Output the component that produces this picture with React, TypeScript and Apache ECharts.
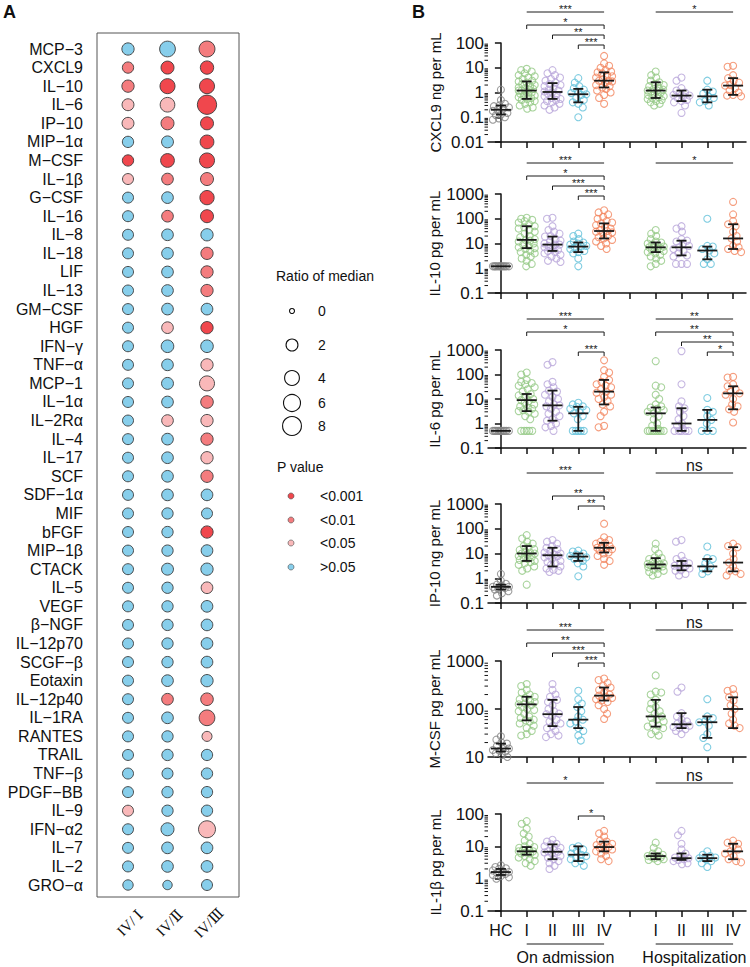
import React, { useEffect, useRef } from "react";
import * as echarts from "echarts";

const FONT = '"Liberation Sans", Arial, Helvetica, sans-serif';
const SERIF = '"Liberation Serif", "DejaVu Serif", "Times New Roman", serif';

// ---------------- Panel A data ----------------
const cytokines = [
  "MCP−3", "CXCL9", "IL−10", "IL−6", "IP−10", "MIP−1α", "M−CSF", "IL−1β", "G−CSF", "IL−16",
  "IL−8", "IL−18", "LIF", "IL−13", "GM−CSF", "HGF", "IFN−γ", "TNF−α", "MCP−1", "IL−1α",
  "IL−2Rα", "IL−4", "IL−17", "SCF", "SDF−1α", "MIF", "bFGF", "MIP−1β", "CTACK", "IL−5",
  "VEGF", "β−NGF", "IL−12p70", "SCGF−β", "Eotaxin", "IL−12p40", "IL−1RA", "RANTES", "TRAIL", "TNF−β",
  "PDGF−BB", "IL−9", "IFN−α2", "IL−7", "IL−2", "GRO−α",
];
const comparisons = ["IV/ Ⅰ", "IV/Ⅱ", "IV/Ⅲ"];
const pValueLevels = ["<0.001", "<0.01", "<0.05", ">0.05"];
const pValueColors = ["#F0474D", "#F47C7E", "#F9B8B9", "#87CEEB"];
const sizeLegendValues = [0, 2, 4, 6, 8];

const ratioIVvsI = [
  2.2, 1.65, 2.2, 2.0, 2.0, 1.65, 1.65, 1.5, 1.5, 1.5,
  1.5, 1.5, 1.5, 1.5, 1.5, 1.5, 1.5, 1.5, 1.5, 1.5,
  1.5, 1.5, 1.5, 1.5, 1.5, 1.5, 1.5, 1.5, 1.5, 1.5,
  1.5, 1.5, 1.5, 1.5, 1.5, 1.5, 1.5, 1.5, 1.5, 1.5,
  1.5, 1.5, 1.5, 1.5, 1.5, 1.2,
];
const ratioIVvsII = [
  4.8, 2.67, 4.2, 3.9, 2.67, 2.0, 3.2, 1.85, 1.85, 1.85,
  1.85, 1.85, 1.85, 1.85, 1.85, 1.85, 2.4, 1.85, 2.0, 1.85,
  1.85, 1.85, 1.85, 1.85, 1.85, 1.65, 1.65, 1.65, 2.0, 1.65,
  1.65, 1.65, 1.65, 1.65, 1.85, 1.85, 1.85, 1.65, 1.65, 1.5,
  1.65, 1.65, 2.67, 1.85, 1.85, 0.8,
];
const ratioIVvsIII = [
  5.0, 2.9, 4.2, 8.5, 2.67, 3.2, 4.2, 2.67, 3.6, 2.67,
  2.2, 2.2, 2.2, 2.2, 1.85, 2.2, 2.4, 2.2, 4.2, 2.4,
  2.2, 2.2, 2.2, 2.2, 1.85, 1.5, 2.2, 1.85, 2.2, 1.85,
  1.85, 1.85, 1.85, 1.85, 2.2, 2.4, 4.8, 1.05, 1.65, 1.65,
  1.65, 1.65, 6.0, 1.85, 1.85, 1.5,
];
// p value class: 0 <0.001, 1 <0.01, 2 <0.05, 3 >0.05
const pIVvsI = [
  3, 1, 1, 2, 2, 3, 0, 2, 3, 3,
  3, 3, 3, 3, 3, 3, 3, 3, 3, 3,
  3, 3, 3, 3, 3, 3, 3, 3, 3, 3,
  3, 3, 3, 3, 3, 3, 3, 3, 3, 3,
  3, 2, 3, 3, 3, 3,
];
const pIVvsII = [
  3, 0, 0, 2, 1, 3, 0, 1, 3, 1,
  3, 3, 3, 3, 3, 2, 3, 3, 3, 3,
  2, 3, 3, 3, 3, 3, 3, 3, 3, 3,
  3, 3, 3, 3, 3, 1, 3, 3, 3, 3,
  3, 3, 3, 3, 3, 3,
];
const pIVvsIII = [
  1, 0, 0, 0, 0, 0, 0, 1, 0, 0,
  3, 1, 1, 1, 3, 0, 3, 2, 2, 1,
  2, 1, 2, 1, 3, 3, 0, 3, 3, 2,
  3, 3, 3, 3, 3, 1, 1, 2, 3, 3,
  3, 3, 2, 3, 3, 3,
];

// ---------------- Panel B data ----------------
const categories = ["HC", "I", "II", "III", "IV", "", "I", "II", "III", "IV"];
const groupSlots = [0, 1, 2, 3, 4, 6, 7, 8, 9];
const groupColorIndex = [0, 1, 2, 3, 4, 1, 2, 3, 4];
const groupColors = ["#858585", "#95C986", "#B8A5DA", "#62C1DA", "#F2865F"];
const periodNames = ["On admission", "Hospitalization"];
const periodFrom = [1, 6];
const periodTo = [4, 9];

const cxcl9Values = [
  [1.3, 0.5, 0.35, 0.3, 0.28, 0.25, 0.22, 0.2, 0.18, 0.15, 0.13, 0.12, 0.1, 0.09, 0.08],
  [9, 8, 7, 6, 5, 4.5, 4, 3.5, 3, 2.8, 2.5, 2.2, 2, 1.8, 1.6, 1.5, 1.4, 1.3, 1.2, 1.2, 1.1, 1.0, 0.9, 0.8, 0.75, 0.7, 0.65, 0.6, 0.55, 0.5, 0.45, 0.4, 0.35, 0.3, 0.25, 0.22],
  [8, 6, 5, 4, 3.5, 3, 2.5, 2.2, 2, 1.8, 1.5, 1.3, 1.2, 1.1, 1.0, 0.9, 0.8, 0.7, 0.6, 0.55, 0.5, 0.45, 0.4, 0.35, 0.3, 0.25, 0.2],
  [3.8, 2.5, 1.8, 1.5, 1.3, 1.1, 0.95, 0.85, 0.8, 0.6, 0.5, 0.4, 0.35, 0.25, 0.1],
  [30, 15, 12, 10, 8, 7, 6.5, 6, 5, 4.5, 4, 3.5, 3, 3, 2.8, 2.5, 2, 1.8, 1.6, 1.4, 1.2, 1.0, 0.8, 0.6, 0.35],
  [7, 5, 4, 3, 2.6, 2.2, 2, 1.8, 1.6, 1.4, 1.3, 1.2, 1.2, 1.1, 1.0, 0.9, 0.8, 0.7, 0.65, 0.6, 0.55, 0.5, 0.45, 0.4, 0.35, 0.3],
  [4, 3, 1.5, 1.2, 1.0, 0.9, 0.8, 0.75, 0.7, 0.6, 0.5, 0.45, 0.4, 0.3, 0.15],
  [3, 1.3, 1.1, 0.9, 0.7, 0.6, 0.45, 0.4, 0.3],
  [12, 11, 5, 3.8, 3, 2.5, 2, 1.9, 1.5, 1.2, 1.0, 0.8, 0.75, 0.7],
];
const cxcl9Median = [0.2, 1.2, 1.05, 0.85, 3.0, 1.2, 0.75, 0.7, 1.9];
const cxcl9Q1 = [0.13, 0.55, 0.55, 0.4, 1.6, 0.6, 0.45, 0.4, 0.8];
const cxcl9Q3 = [0.3, 2.8, 2.4, 1.4, 6.5, 2.6, 1.2, 1.3, 3.8];

const il10Values = [
  [1.2, 1.2, 1.2, 1.2, 1.2, 1.2, 1.2, 1.2, 1.2, 1.2, 1.2, 1.2],
  [110, 100, 90, 80, 70, 60, 50, 45, 40, 35, 30, 25, 20, 18, 15, 14, 13, 12, 10, 9, 8, 7, 6.5, 6, 5, 4.5, 4, 3.5, 3, 2.5, 2, 1.5, 1.2],
  [110, 100, 50, 35, 30, 25, 20, 19, 15, 13, 12, 10, 9, 9, 8, 7, 6, 5.5, 5, 4.5, 4, 3.5, 3, 2.5, 2, 1.8],
  [25, 20, 15, 12, 11, 10, 9, 8, 7.5, 7, 6, 5, 4.5, 4, 2.5, 1.2],
  [220, 180, 150, 120, 100, 80, 70, 65, 55, 45, 40, 35, 32, 30, 28, 25, 20, 18, 16, 14, 12, 10, 8, 6],
  [35, 25, 20, 15, 12, 11, 10, 9, 8, 7.5, 7, 7, 6.5, 6, 5.5, 5, 4.5, 4, 3.5, 3, 2.5, 2, 1.5, 1.2],
  [50, 40, 30, 15, 13, 12, 10, 8, 7, 6, 5, 4, 3.3, 3, 1.5, 1.5, 1.5],
  [100, 8, 7.5, 6, 5.2, 4, 2.3, 1.5, 1.5],
  [480, 150, 80, 60, 50, 30, 20, 16, 12, 8, 7, 6, 5, 4.5],
];
const il10Median = [1.2, 14, 9, 7.5, 32, 7, 7, 5.2, 16];
const il10Q1 = [1.2, 6.5, 5, 4.5, 16, 4.5, 3.3, 2.3, 6];
const il10Q3 = [1.2, 50, 19, 11, 65, 11, 13, 7.5, 60];

const il6Values = [
  [0.5, 0.5, 0.5, 0.5, 0.5, 0.5, 0.5, 0.5, 0.5, 0.5, 0.5, 0.5],
  [120, 100, 60, 50, 45, 40, 35, 30, 25, 20, 16, 14, 12, 10, 9, 8, 7, 6, 5, 4.5, 4, 3.5, 3.2, 3, 2.5, 2, 1.5, 0.5, 0.5, 0.5, 0.5, 0.5],
  [320, 250, 50, 40, 30, 22, 20, 15, 12, 10, 8, 6, 5.5, 5, 4, 3, 2.5, 2, 1.5, 1.3, 1, 0.8, 0.7, 0.5],
  [7, 6, 5, 4.8, 4, 3.5, 3, 2.6, 2, 1.5, 0.5, 0.5, 0.5, 0.5, 0.5],
  [380, 150, 120, 80, 60, 50, 40, 35, 30, 25, 20, 18, 15, 12, 10, 8, 6, 5, 3, 2, 0.8, 0.7],
  [350, 35, 30, 15, 10, 6, 5, 4.5, 4, 3.5, 3, 2.6, 2, 1.5, 1, 0.8, 0.6, 0.5, 0.5, 0.5, 0.5, 0.5, 0.5, 0.5, 0.5],
  [900, 40, 8, 5, 4.2, 3, 2, 1.5, 1, 0.8, 0.6, 0.5, 0.5, 0.5, 0.5, 0.5],
  [11, 3.6, 3, 2, 1.4, 1, 0.5, 0.5, 0.5],
  [80, 75, 40, 33, 25, 20, 17, 15, 10, 6, 5, 3.8, 3, 1.1],
];
const il6Median = [0.5, 9, 5.5, 2.6, 20, 2.6, 1.0, 1.4, 17];
const il6Q1 = [0.5, 3.2, 1.3, 0.5, 6, 0.5, 0.5, 0.5, 3.8];
const il6Q3 = [0.5, 16, 22, 4.8, 60, 4.5, 4.2, 3.6, 33];

const ip10Values = [
  [1.5, 0.8, 0.6, 0.55, 0.5, 0.45, 0.45, 0.4, 0.38, 0.35, 0.3, 0.25, 0.2],
  [55, 40, 30, 25, 20, 18, 15, 14, 12, 11, 10, 10, 9, 8, 7, 6.5, 6, 5.5, 5, 4.5, 4, 3.5, 3, 2.5, 2, 0.55],
  [35, 30, 25, 20, 17, 15, 13, 11, 10, 9, 8.5, 8, 7, 6, 5, 4.5, 4, 3.5, 3, 2.5, 2.2, 2, 1.8],
  [13, 12, 10, 9, 8, 7.5, 7, 6, 5, 4, 3, 1.2],
  [160, 45, 35, 30, 27, 25, 20, 18, 17, 16, 15, 13, 11, 10, 8, 6, 5, 3.5],
  [25, 15, 10, 7, 6.5, 6, 5, 4.5, 4, 3.8, 3.6, 3.5, 3.2, 3, 2.8, 2.5, 2.2, 2, 1.8, 1.5, 1.3],
  [35, 30, 8, 6, 5, 4, 3.5, 3.2, 3, 2.5, 2.1, 2, 1.5, 1.3],
  [19, 6.5, 6, 4, 3, 2.5, 1.9, 1.5],
  [25, 20, 18, 10, 6, 4.3, 3, 2, 1.9, 1.5, 1.3],
];
const ip10Median = [0.45, 10, 8.5, 7.5, 17, 3.6, 3.2, 3.0, 4.3];
const ip10Q1 = [0.35, 5, 3, 5, 11, 2.5, 2.1, 1.9, 1.9];
const ip10Q3 = [0.55, 20, 17, 10, 27, 6.5, 5, 6, 18];

const mcsfValues = [
  [27, 23, 20, 19, 17, 16, 15, 14, 13.5, 13, 12, 11, 10],
  [330, 300, 250, 220, 200, 180, 170, 160, 150, 140, 130, 125, 120, 110, 100, 95, 90, 80, 70, 65, 60, 58, 55, 50, 45, 40, 35, 30, 28],
  [330, 250, 200, 180, 155, 140, 120, 100, 90, 80, 78, 70, 60, 55, 50, 44, 40, 35, 30, 28, 26],
  [240, 160, 130, 110, 90, 70, 60, 55, 50, 40, 35, 28, 22],
  [430, 400, 350, 300, 280, 250, 220, 200, 190, 180, 170, 160, 150, 140, 120, 100, 80, 62],
  [500, 230, 220, 200, 155, 130, 110, 100, 90, 80, 70, 65, 60, 55, 50, 45, 43, 40, 35, 30, 28],
  [280, 230, 82, 70, 60, 55, 50, 48, 45, 42, 40, 38, 35, 30],
  [160, 70, 65, 55, 53, 45, 30, 25, 16],
  [260, 240, 200, 175, 150, 120, 100, 80, 60, 50, 45, 40],
];
const mcsfMedian = [15, 125, 78, 60, 190, 70, 48, 53, 100];
const mcsfQ1 = [13, 58, 44, 40, 150, 43, 40, 25, 40];
const mcsfQ3 = [19, 180, 155, 110, 280, 155, 82, 70, 175];

const il1bValues = [
  [2.6, 2.3, 2.1, 2, 1.8, 1.7, 1.6, 1.5, 1.4, 1.3, 1.2, 1.1, 1.0],
  [60, 50, 35, 25, 20, 15, 12, 10, 9.5, 9, 8, 7.5, 7, 7, 6.5, 6, 6, 5.5, 5, 4.5, 4, 3.5, 3, 2.5],
  [16, 14, 12, 11.5, 10, 9, 8, 7, 6.8, 6.5, 6, 5, 4.5, 4, 3.5, 3, 2.5, 2],
  [10, 9, 8, 7, 6, 5.5, 5, 4.5, 4, 3.5, 3, 2.5],
  [30, 25, 20, 15, 14, 12, 11, 10, 9.5, 9, 8, 7.5, 7, 6, 5, 4, 3.5],
  [13, 9, 7, 6, 5.5, 5, 5, 4.8, 4.5, 4.2, 4, 3.8, 3.5],
  [30, 22, 12, 8, 6, 5, 4.5, 4.3, 4, 3.8, 3.5, 3, 2.8],
  [7, 5.5, 5, 4.5, 4.3, 4, 3.5, 3, 2.3],
  [15, 13, 12, 10, 8, 7, 6, 5, 4, 3.5, 3.2],
];
const il1bMedian = [1.6, 7, 6.8, 5.5, 9.5, 5, 4.3, 4.3, 7];
const il1bQ1 = [1.3, 5.5, 4, 3.5, 7, 4, 3.8, 3.5, 4];
const il1bQ3 = [2, 9.5, 11.5, 10, 14, 6, 6, 5.5, 12];

type Sig = { from: number; to: number; label: string; top?: boolean };
const cxcl9Sig: Sig[] = [
  { from: 1, to: 4, label: "***", top: true }, { from: 6, to: 9, label: "*", top: true },
  { from: 1, to: 4, label: "*" }, { from: 2, to: 4, label: "**" }, { from: 3, to: 4, label: "***" },
];
const il10Sig: Sig[] = [
  { from: 1, to: 4, label: "***", top: true }, { from: 6, to: 9, label: "*", top: true },
  { from: 1, to: 4, label: "*" }, { from: 2, to: 4, label: "***" }, { from: 3, to: 4, label: "***" },
];
const il6Sig: Sig[] = [
  { from: 1, to: 4, label: "***", top: true }, { from: 6, to: 9, label: "**", top: true },
  { from: 1, to: 4, label: "*" }, { from: 3, to: 4, label: "***" },
  { from: 6, to: 9, label: "**" }, { from: 7, to: 9, label: "**" }, { from: 8, to: 9, label: "*" },
];
const ip10Sig: Sig[] = [
  { from: 1, to: 4, label: "***", top: true }, { from: 6, to: 9, label: "ns", top: true },
  { from: 2, to: 4, label: "**" }, { from: 3, to: 4, label: "**" },
];
const mcsfSig: Sig[] = [
  { from: 1, to: 4, label: "***", top: true }, { from: 6, to: 9, label: "ns", top: true },
  { from: 1, to: 4, label: "**" }, { from: 2, to: 4, label: "***" }, { from: 3, to: 4, label: "***" },
];
const il1bSig: Sig[] = [
  { from: 1, to: 4, label: "*", top: true }, { from: 6, to: 9, label: "ns", top: true },
  { from: 3, to: 4, label: "*" },
];

const plotTitles = ["CXCL9 ng per mL", "IL-10 pg per mL", "IL-6 pg per mL", "IP-10 ng per mL", "M-CSF pg per mL", "IL-1β pg per mL"];
const plotMin = [0.01, 0.1, 0.1, 0.1, 10, 0.1];
const plotMax = [100, 1000, 1000, 1000, 1000, 100];
const plotValues = [cxcl9Values, il10Values, il6Values, ip10Values, mcsfValues, il1bValues];
const plotMedians = [cxcl9Median, il10Median, il6Median, ip10Median, mcsfMedian, il1bMedian];
const plotQ1 = [cxcl9Q1, il10Q1, il6Q1, ip10Q1, mcsfQ1, il1bQ1];
const plotQ3 = [cxcl9Q3, il10Q3, il6Q3, ip10Q3, mcsfQ3, il1bQ3];
const plotSigs = [cxcl9Sig, il10Sig, il6Sig, ip10Sig, mcsfSig, il1bSig];

// ---------------- Layout ----------------
const A_LEFT = 108.25;
const A_BAND = 39.5;
const A_ROW = 18.578;
const A_TOP = 49 - A_ROW / 2;
const B_LEFT = 488;
const B_WIDTH = 258;
const B_TOPS = [43, 194, 350, 504, 661, 814];
const B_HEIGHTS = [99, 99, 98, 99, 96, 97];

const sizeFor = (r: number) => 5 + 4.9 * Math.sqrt(Math.max(r, 0));

function swarmOffsets(vals: number[], lmin: number, lmax: number, hPx: number): number[] {
  const idx = vals.map((_, i) => i).sort((a, b) => vals[b] - vals[a]);
  const placed: [number, number][] = [];
  const off = new Array(vals.length).fill(0);
  const minD = 5.5;
  const maxOff = 8;
  let flip = 1;
  for (const i of idx) {
    const y = ((lmax - Math.log10(vals[i])) / (lmax - lmin)) * hPx;
    let found = false;
    let chosen = 0;
    let bestMd = -1;
    let bestS = 0;
    for (let k = 0; k <= maxOff && !found; k += 0.5) {
      const cands = k === 0 ? [0] : [k * flip, -k * flip];
      for (const s of cands) {
        let md = Infinity;
        for (const [px, py] of placed) {
          const d = Math.hypot(px - s, py - y);
          if (d < md) md = d;
        }
        if (md >= minD) {
          chosen = s;
          found = true;
          break;
        }
        if (md > bestMd) {
          bestMd = md;
          bestS = s;
        }
      }
    }
    if (!found) chosen = bestS;
    placed.push([chosen, y]);
    off[i] = chosen;
    flip = -flip;
  }
  return off;
}

function fmtLog(v: number) {
  if (v >= 1) return String(Math.round(v));
  return String(Number(v.toPrecision(1)));
}

function buildOption() {
  const grids: any[] = [
    { left: A_LEFT, top: A_TOP, width: A_BAND * 3, height: A_ROW * cytokines.length },
  ];
  const xAxes: any[] = [
    { type: "category", gridIndex: 0, data: comparisons, show: false, boundaryGap: true },
  ];
  const yAxes: any[] = [
    {
      type: "category", gridIndex: 0, data: cytokines, inverse: true, boundaryGap: true,
      axisLine: { show: false }, axisTick: { show: false }, splitLine: { show: false },
      axisLabel: { interval: 0, fontSize: 16, color: "#111", margin: A_LEFT - 83, fontFamily: FONT },
    },
  ];
  const series: any[] = [];

  // Panel A bubbles
  const ratios = [ratioIVvsI, ratioIVvsII, ratioIVvsIII];
  const ps = [pIVvsI, pIVvsII, pIVvsIII];
  const bubbleData: any[] = [];
  cytokines.forEach((_, r) => {
    for (let c = 0; c < 3; c++) {
      bubbleData.push({ value: [c, r, ratios[c][r]], itemStyle: { color: pValueColors[ps[c][r]] } });
    }
  });
  series.push({
    type: "scatter", xAxisIndex: 0, yAxisIndex: 0, data: bubbleData, silent: true,
    symbol: "circle", symbolSize: (v: number[]) => sizeFor(v[2]),
    itemStyle: { borderColor: "#3a3a3a", borderWidth: 0.9, opacity: 1 },
  });

  const bandPx = B_WIDTH / categories.length;

  for (let p = 0; p < 6; p++) {
    const gi = p + 1;
    const isLast = p === 5;
    grids.push({ left: B_LEFT, top: B_TOPS[p], width: B_WIDTH, height: B_HEIGHTS[p] });
    xAxes.push({
      type: "category", gridIndex: gi, data: categories, boundaryGap: true,
      axisLine: { show: true, lineStyle: { color: "#111", width: 1.5 } },
      axisTick: { show: true, alignWithLabel: true, interval: 0, length: 6, lineStyle: { color: "#111", width: 1.5 } },
      axisLabel: { show: isLast, interval: 0, fontSize: 16, color: "#111", margin: 11, fontFamily: FONT },
      splitLine: { show: false },
    });
    const valIdx = xAxes.length;
    xAxes.push({ type: "value", gridIndex: gi, min: -0.5, max: categories.length - 0.5, show: false });
    const yIdx = yAxes.length;
    yAxes.push({
      type: "log", logBase: 10, gridIndex: gi, min: plotMin[p], max: plotMax[p],
      name: plotTitles[p], nameLocation: "middle", nameGap: 45, nameRotate: 90,
      nameTextStyle: { fontSize: 15, color: "#111", fontFamily: FONT },
      axisLine: { show: true, lineStyle: { color: "#111", width: 1.5 } },
      axisTick: { show: true, length: 6, lineStyle: { color: "#111", width: 1.5 } },
      axisLabel: { fontSize: 17, color: "#111", margin: 4, fontFamily: FONT, formatter: (v: number) => fmtLog(v) },
      splitLine: { show: false },
      minorTick: { show: false },
    });

    const lmin = Math.log10(plotMin[p]);
    const lmax = Math.log10(plotMax[p]);

    // points (beeswarm)
    const pts: any[] = [];
    plotValues[p].forEach((vals, g) => {
      const offs = swarmOffsets(vals, lmin, lmax, B_HEIGHTS[p]);
      vals.forEach((v, k) => {
        pts.push({
          value: [groupSlots[g] + offs[k] / bandPx, v],
          itemStyle: { borderColor: groupColors[groupColorIndex[g]] },
        });
      });
    });
    series.push({
      type: "scatter", xAxisIndex: valIdx, yAxisIndex: yIdx, data: pts, silent: true,
      symbol: "circle", symbolSize: 7, z: 2,
      itemStyle: { color: "rgba(255,255,255,0)", borderWidth: 1.1 },
    });

    // median + IQR
    const med = plotMedians[p];
    const q1 = plotQ1[p];
    const q3 = plotQ3[p];
    series.push({
      type: "custom", xAxisIndex: valIdx, yAxisIndex: yIdx, silent: true, z: 5, clip: false,
      data: groupSlots.map((s, g) => [s, med[g], q1[g], q3[g]]),
      encode: { x: 0, y: [1, 2, 3] },
      renderItem: (params: any, api: any) => {
        const x = api.value(0);
        const m = api.value(1);
        const lo = api.value(2);
        const hi = api.value(3);
        const pm = api.coord([x, m]);
        const pl = api.coord([x, lo]);
        const ph = api.coord([x, hi]);
        const st = { stroke: "#1a1a1a", lineWidth: 1.8 };
        const ch: any[] = [
          { type: "line", shape: { x1: pm[0] - 10, y1: pm[1], x2: pm[0] + 10, y2: pm[1] }, style: st },
        ];
        if (hi > lo) {
          ch.push({ type: "line", shape: { x1: pm[0], y1: pl[1], x2: pm[0], y2: ph[1] }, style: st });
          ch.push({ type: "line", shape: { x1: pm[0] - 5, y1: pl[1], x2: pm[0] + 5, y2: pl[1] }, style: st });
          ch.push({ type: "line", shape: { x1: pm[0] - 5, y1: ph[1], x2: pm[0] + 5, y2: ph[1] }, style: st });
        }
        return { type: "group", children: ch };
      },
    });

    // minor log ticks
    const minorVals: number[] = [];
    for (let e = Math.round(lmin); e < Math.round(lmax); e++) {
      for (let m = 2; m <= 9; m++) minorVals.push(m * Math.pow(10, e));
    }
    series.push({
      type: "custom", xAxisIndex: valIdx, yAxisIndex: yIdx, silent: true, clip: false, z: 3,
      data: minorVals.map((v) => [-0.5, v]),
      encode: { x: 0, y: 1 },
      renderItem: (params: any, api: any) => {
        const c = api.coord([-0.5, api.value(1)]);
        return { type: "line", shape: { x1: c[0] - 3.5, y1: c[1], x2: c[0], y2: c[1] }, style: { stroke: "#111", lineWidth: 1 } };
      },
    });

    // significance annotations
    const sig = plotSigs[p];
    const ymax = plotMax[p];
    series.push({
      type: "custom", xAxisIndex: valIdx, yAxisIndex: yIdx, silent: true, clip: false, z: 6,
      data: sig.map((s) => [s.from, s.to, ymax]),
      encode: { x: [0, 1], y: 2 },
      renderItem: (params: any, api: any) => {
        const s = sig[params.dataIndex];
        const a = api.coord([s.from, ymax]);
        const b = api.coord([s.to, ymax]);
        const off = s.top ? 31 : [18, 8, -2][(s.from - 1) % 5];
        const y = a[1] - off;
        const st = { stroke: "#1a1a1a", lineWidth: 1 };
        const ch: any[] = [{ type: "line", shape: { x1: a[0], y1: y, x2: b[0], y2: y }, style: st }];
        if (!s.top) {
          ch.push({ type: "line", shape: { x1: a[0], y1: y, x2: a[0], y2: y + 4 }, style: st });
          ch.push({ type: "line", shape: { x1: b[0], y1: y, x2: b[0], y2: y + 4 }, style: st });
        }
        const isNs = s.label === "ns";
        ch.push({
          type: "text", x: (a[0] + b[0]) / 2, y: isNs ? y - 8 : y - 3,
          style: {
            text: s.label, fill: "#1a1a1a", fontSize: isNs ? 16 : 11,
            fontFamily: FONT, align: "center", verticalAlign: "middle",
          },
        });
        return { type: "group", children: ch };
      },
    });

    if (isLast) {
      const ymin = plotMin[p];
      series.push({
        type: "custom", xAxisIndex: valIdx, yAxisIndex: yIdx, silent: true, clip: false, z: 6,
        data: periodFrom.map((f, i) => [f, periodTo[i], ymin]),
        encode: { x: [0, 1], y: 2 },
        renderItem: (params: any, api: any) => {
          const i = params.dataIndex;
          const a = api.coord([periodFrom[i], ymin]);
          const b = api.coord([periodTo[i], ymin]);
          const y = a[1] + 33;
          return {
            type: "group",
            children: [
              { type: "line", shape: { x1: a[0], y1: y, x2: b[0], y2: y }, style: { stroke: "#1a1a1a", lineWidth: 1 } },
              {
                type: "text", x: (a[0] + b[0]) / 2, y: y + 13,
                style: { text: periodNames[i], fill: "#111", fontSize: 16, fontFamily: FONT, align: "center", verticalAlign: "middle" },
              },
            ],
          };
        },
      });
    }
  }

  // graphic: panel letters, box, legends, rotated labels
  const graphic: any[] = [
    { type: "text", x: 3, y: 12, style: { text: "A", fontSize: 18, fontWeight: "bold", fontFamily: FONT, fill: "#111", verticalAlign: "middle" } },
    { type: "text", x: 412, y: 12, style: { text: "B", fontSize: 18, fontWeight: "bold", fontFamily: FONT, fill: "#111", verticalAlign: "middle" } },
    { type: "rect", shape: { x: 97, y: 33, width: 142, height: 864 }, style: { fill: "none", stroke: "#555", lineWidth: 1 }, z: 0 },
    { type: "text", x: 276, y: 276, style: { text: "Ratio of median", fontSize: 14, fontFamily: FONT, fill: "#111", verticalAlign: "middle" } },
    { type: "text", x: 277, y: 467, style: { text: "P value", fontSize: 14, fontFamily: FONT, fill: "#111", verticalAlign: "middle" } },
  ];
  const sizeYs = [311, 345, 378, 403, 426];
  sizeLegendValues.forEach((v, i) => {
    graphic.push({ type: "circle", shape: { cx: 292, cy: sizeYs[i], r: sizeFor(v) / 2 }, style: { fill: "#fff", stroke: "#111", lineWidth: 1.1 } });
    graphic.push({ type: "text", x: 318, y: sizeYs[i], style: { text: String(v), fontSize: 14, fontFamily: FONT, fill: "#111", verticalAlign: "middle" } });
  });
  const pYs = [496, 520, 543, 567];
  pValueLevels.forEach((t, i) => {
    graphic.push({ type: "circle", shape: { cx: 291, cy: pYs[i], r: 3 }, style: { fill: pValueColors[i], stroke: "#444", lineWidth: 0.6 } });
    graphic.push({ type: "text", x: 320, y: pYs[i], style: { text: t, fontSize: 14, fontFamily: FONT, fill: "#111", verticalAlign: "middle" } });
  });
  comparisons.forEach((t, c) => {
    const cx = A_LEFT + A_BAND * (c + 0.5);
    graphic.push({
      type: "text", x: cx + 2, y: 923, rotation: Math.PI / 4,
      style: { text: t, fontSize: 15, fontFamily: SERIF, fill: "#111", align: "center", verticalAlign: "middle" },
    });
  });

  return {
    animation: false,
    backgroundColor: "#fff",
    textStyle: { fontFamily: FONT, color: "#111" },
    grid: grids,
    xAxis: xAxes,
    yAxis: yAxes,
    series,
    graphic,
  };
}

export default function App() {
  const ref = useRef<HTMLDivElement>(null);
  useEffect(() => {
    if (!ref.current) return;
    const chart = echarts.init(ref.current, undefined, { renderer: "svg" });
    chart.setOption(buildOption() as any);
    return () => chart.dispose();
  }, []);
  return <div ref={ref} style={{ position: "absolute", left: 0, top: 0, width: 750, height: 967 }} />;
}
